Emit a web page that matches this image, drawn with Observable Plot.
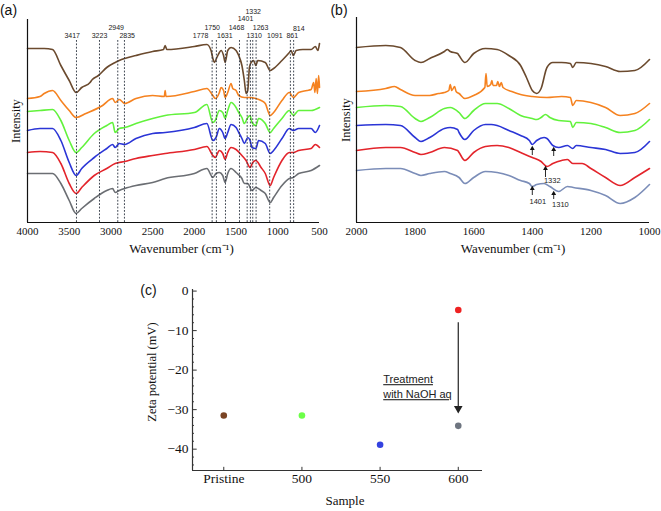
<!DOCTYPE html>
<html>
<head>
<meta charset="utf-8">
<script src="https://cdn.jsdelivr.net/npm/d3@7"></script>
<script src="https://cdn.jsdelivr.net/npm/@observablehq/plot@0.6"></script>
<style>
  body { margin: 0; background: #fff; }
  #wrap { position: relative; width: 661px; height: 511px; background: #fff; overflow: hidden; }
  #wrap > svg { position: absolute; }
  #wrap svg [aria-label^="x-axis"] text, #wrap svg [aria-label^="y-axis"] text,
  #wrap svg [aria-label^="x-axis"], #wrap svg [aria-label^="y-axis"] { font-family: "Liberation Serif", "Times New Roman", serif; }
  .lbl { position: absolute; transform: translate(-50%, -50%); line-height: 1; white-space: nowrap; color: #111; }
  .serif { font-family: "Liberation Serif", "Times New Roman", serif; }
  .sans { font-family: "Liberation Sans", Arial, sans-serif; }
</style>
</head>
<body>
<div id="wrap"></div>
<script>
// ---------- Panel (a): full FTIR spectra [wavenumber, intensity a.u.] ----------
const brownA = [[4000,182],[3800,182],[3700,181],[3600,165],[3500,150],[3417,138],[3350,143],[3250,148],[3223,151],[3150,155],[3050,163],[2949,168],[2900,170],[2835,172],[2700,175],[2500,179],[2370,181],[2350,185],[2330,181],[2000,184],[1850,186],[1800,180],[1778,172],[1760,168],[1730,173],[1700,178],[1680,180],[1650,175],[1631,168],[1600,180],[1560,183],[1500,180],[1468,175],[1430,165],[1401,150],[1380,137],[1360,140],[1340,163],[1320,168],[1290,170],[1263,165],[1240,170],[1150,168],[1091,160],[1050,162],[950,170],[861,178],[840,180],[814,175],[780,180],[700,181],[600,181],[550,184],[520,180],[500,187]];
const orangeA = [[4000,132],[3850,134],[3800,137],[3700,140],[3600,130],[3500,120],[3417,113],[3300,117],[3100,125],[2980,132],[2949,128],[2900,131],[2835,127],[2700,132],[2500,135],[2360,134],[2350,140],[2340,134],[2000,139],[1850,142],[1778,135],[1750,132],[1700,138],[1680,143],[1650,140],[1631,133],[1600,138],[1560,147],[1540,142],[1500,140],[1468,135],[1401,133],[1332,133],[1263,132],[1200,130],[1150,127],[1091,115],[1050,118],[950,130],[861,138],[814,133],[750,138],[650,140],[600,141],[570,148],[555,138],[540,152],[525,137],[510,155],[500,143]];
const greenA = [[4000,119],[3850,120],[3700,121],[3600,110],[3500,90],[3417,78],[3350,83],[3200,97],[3050,105],[2980,108],[2949,98],[2900,102],[2835,103],[2700,107],[2500,112],[2350,115],[2000,118],[1850,126],[1778,108],[1750,110],[1700,120],[1660,118],[1631,112],[1600,120],[1560,128],[1500,123],[1468,118],[1430,113],[1401,107],[1360,113],[1332,115],[1310,108],[1263,105],[1230,112],[1150,107],[1091,98],[1050,102],[950,112],[861,120],[814,115],[750,120],[600,120],[500,123]];
const blueA = [[4000,100],[3850,102],[3700,102],[3600,90],[3500,68],[3417,55],[3350,62],[3200,73],[3050,82],[2980,86],[2949,83],[2900,87],[2835,86],[2700,92],[2500,97],[2350,98],[2000,103],[1850,107],[1778,90],[1740,93],[1700,102],[1660,98],[1631,92],[1600,98],[1560,106],[1500,103],[1468,98],[1430,92],[1401,87],[1360,93],[1332,90],[1310,83],[1263,82],[1230,90],[1150,87],[1091,77],[1050,80],[950,92],[861,102],[814,100],[750,102],[600,102],[550,98],[500,105]];
const redA = [[4000,78],[3850,79],[3700,78],[3600,67],[3500,47],[3417,37],[3350,43],[3200,55],[3050,62],[2949,67],[2835,69],[2700,72],[2500,75],[2350,77],[2000,81],[1850,84],[1778,75],[1750,73],[1700,80],[1660,77],[1631,71],[1600,78],[1560,83],[1500,81],[1430,75],[1380,70],[1332,63],[1300,68],[1263,70],[1200,63],[1150,57],[1091,45],[1050,53],[950,70],[861,78],[814,78],[750,80],[600,82],[550,86],[500,83]];
const grayA = [[4000,57],[3850,57],[3700,57],[3600,47],[3500,30],[3417,17],[3350,22],[3200,32],[3050,40],[2980,42],[2949,38],[2900,40],[2835,42],[2700,45],[2500,48],[2350,52],[2000,57],[1850,62],[1778,53],[1740,57],[1700,58],[1660,55],[1631,48],[1600,57],[1560,62],[1500,58],[1430,52],[1401,47],[1360,47],[1310,40],[1263,43],[1200,40],[1150,37],[1091,28],[1050,33],[950,45],[861,52],[814,53],[750,57],[600,60],[500,65]];

// dashed peak markers: drawn position, label text, label position, label row height
const peakPosA   = [3413, 3137, 2918, 2838, 1787, 1736, 1627, 1459, 1367, 1328, 1300, 1260, 1097, 849, 810];
const peakTextA  = ["3417","3223","2949","2835","1778","1750","1631","1468","1401","1332","1310","1263","1091","861","814"];
const peakLblXA  = [3464, 3137, 2937, 2805, 1926, 1786, 1635, 1495, 1387, 1295, 1283, 1207, 1036, 827, 748];
const peakLblYA  = [195, 195, 203, 195, 195, 203, 195, 203, 211.5, 219, 195, 203, 195, 195, 202];
const peakTopA = 191;
const xTicksA = [4000, 3500, 3000, 2500, 2000, 1500, 1000, 500];

// ---------- Panel (b): 2000-1000 cm-1 region ----------
const brownB = [[2000,183],[1900,185],[1850,183],[1800,170],[1780,168],[1750,172],[1700,179],[1690,181],[1680,179],[1655,177],[1650,175],[1630,168],[1600,177],[1560,182],[1520,181],[1480,175],[1440,165],[1420,153],[1400,140],[1385,137],[1370,142],[1350,163],[1330,168],[1300,168],[1270,167],[1262,163],[1250,168],[1200,167],[1150,164],[1100,159],[1050,160],[1000,171]];
const orangeB = [[2000,139],[1900,142],[1870,144],[1850,141],[1800,135],[1750,135],[1720,137],[1700,138],[1685,140],[1680,146],[1675,140],[1665,144],[1660,139],[1650,137],[1630,132],[1600,135],[1562,143],[1558,157],[1554,144],[1542,146],[1538,150],[1534,145],[1522,145],[1518,149],[1512,144],[1506,148],[1500,143],[1470,139],[1440,136],[1400,134],[1350,133],[1300,134],[1270,133],[1262,125],[1250,130],[1200,128],[1150,123],[1100,115],[1050,117],[1000,127]];
const greenB = [[2000,123],[1900,125],[1850,124],[1800,112],[1780,109],[1750,113],[1700,122],[1680,123],[1650,118],[1630,112],[1600,120],[1560,127],[1520,127],[1480,122],[1440,115],[1400,112],[1385,111],[1370,113],[1355,116],[1340,113],[1310,110],[1270,109],[1262,103],[1250,108],[1200,107],[1150,103],[1100,98],[1050,100],[1000,111]];
const blueB = [[2000,105],[1900,106],[1850,105],[1800,93],[1780,89],[1750,93],[1700,102],[1680,103],[1655,101],[1650,98],[1630,91],[1600,100],[1560,106],[1540,106],[1520,105],[1480,100],[1440,95],[1410,90],[1400,86],[1385,90],[1360,93],[1350,92],[1330,85],[1310,83],[1280,85],[1262,82],[1250,85],[1200,83],[1150,81],[1100,77],[1050,78],[1000,89]];
const redB = [[2000,80],[1900,83],[1850,83],[1800,78],[1780,76],[1750,78],[1700,83],[1655,80],[1650,78],[1630,70],[1600,78],[1560,84],[1520,85],[1480,83],[1440,78],[1400,73],[1370,69],[1350,64],[1330,67],[1300,70],[1280,71],[1262,67],[1230,67],[1200,62],[1150,53],[1100,45],[1050,53],[1000,62]];
const grayB = [[2000,60],[1900,62],[1850,62],[1800,57],[1780,55],[1750,57],[1700,59],[1680,57],[1650,53],[1630,47],[1600,53],[1560,59],[1520,58],[1480,55],[1440,50],[1410,47],[1400,44],[1385,46],[1360,47],[1340,44],[1310,39],[1280,44],[1260,43],[1200,40],[1150,35],[1100,27],[1050,33],[1000,46]];

// small arrows in (b): position, tip, tail; labels
const arrowPosB  = [1400, 1327, 1355, 1400, 1327];
const arrowTipB  = [82, 81, 62, 42, 37];
const arrowTailB = [75, 74, 53, 35, 31];
const arrowTextB = ["1332", "1401", "1310"];
const arrowLblXB = [1332, 1381, 1304];
const arrowLblYB = [50, 29, 26];
const xTicksB = [2000, 1800, 1600, 1400, 1200, 1000];

// ---------- Panel (c): zeta potential ----------
const samples = ["Pristine", "500", "550", "600"];
const zetaIndex = [0, 1, 2, 3, 3];
const zetaValue = [-31.5, -31.5, -38.9, -4.8, -34.1];
const zetaColor = ["#7a4424", "#6cff48", "#3442e0", "#ee2222", "#6e7580"];
const zetaTicks = [0, -10, -20, -30, -40];
const zetaMinor = [-2,-4,-6,-8,-12,-14,-16,-18,-22,-24,-26,-28,-32,-34,-36,-38,-42,-44];
const treatArrow = {x: 3, from: -8.0, to: -30.6};
const treatText = ["Treatment", "with NaOH aq"];
const treatTextY = [-22.4, -26.2];

// ---------- helpers ----------
const toRows = arr => arr.map(([w, v]) => ({w, v}));
const specStyle = {background: "transparent", fontFamily: "'Liberation Serif', serif", fontSize: "11px", color: "#111", overflow: "visible"};

const seriesA = [
  [brownA, "#6b4a2e"], [orangeA, "#f58220"], [greenA, "#62f23c"],
  [blueA, "#2b35d6"], [redA, "#e3242b"], [grayA, "#6b6e73"]
];
const seriesB = [
  [brownB, "#6b4a2e"], [orangeB, "#f58220"], [greenB, "#62f23c"],
  [blueB, "#2b35d6"], [redB, "#e3242b"], [grayB, "#7b8db8"]
];

const wrap = document.getElementById("wrap");

// Panel (a)
const plotA = Plot.plot({
  width: 330, height: 255,
  marginLeft: 27, marginRight: 11, marginTop: 19, marginBottom: 33,
  style: specStyle,
  x: {domain: [4000, 500], ticks: xTicksA, tickSize: 0, tickPadding: 5, tickFormat: d3.format("d"), label: null},
  y: {domain: [8, 211], axis: null},
  marks: [
    ...seriesA.map(([d, c]) => Plot.line(toRows(d), {x: "w", y: "v", stroke: c, strokeWidth: 1.6, curve: "monotone-x"})),
    Plot.ruleX(peakPosA, {y1: 8, y2: peakTopA, stroke: "#2b3340", strokeWidth: 0.9, strokeDasharray: "1.8,1.6"}),
    Plot.text(peakTextA, {x: (d, i) => peakLblXA[i], y: (d, i) => peakLblYA[i], text: d => d, fontSize: 7, fontFamily: "'Liberation Sans', sans-serif", fill: "#222"}),
    Plot.ruleX([4000], {stroke: "#111", strokeWidth: 1.2}),
    Plot.ruleY([8], {stroke: "#111", strokeWidth: 1.2})
  ]
});
plotA.style.left = "0px"; plotA.style.top = "0px";
wrap.appendChild(plotA);

// Panel (b)
const plotB = Plot.plot({
  width: 331, height: 255,
  marginLeft: 26, marginRight: 12, marginTop: 17, marginBottom: 33,
  style: specStyle,
  x: {domain: [2000, 1000], ticks: xTicksB, tickSize: 0, tickPadding: 5, tickFormat: d3.format("d"), label: null},
  y: {domain: [8, 213], axis: null},
  marks: [
    ...seriesB.map(([d, c]) => Plot.line(toRows(d), {x: "w", y: "v", stroke: c, strokeWidth: 1.6, curve: "monotone-x"})),
    Plot.ruleX(arrowPosB, {y1: (d, i) => arrowTailB[i], y2: (d, i) => arrowTipB[i], stroke: "#111", strokeWidth: 0.9}),
    Plot.dot(arrowPosB, {x: d => d, y: (d, i) => arrowTipB[i], symbol: "triangle", r: 1.8, fill: "#111", stroke: "none"}),
    Plot.text(arrowTextB, {x: (d, i) => arrowLblXB[i], y: (d, i) => arrowLblYB[i], text: d => d, fontSize: 7.5, fontFamily: "'Liberation Sans', sans-serif", fill: "#222"}),
    Plot.ruleX([2000], {stroke: "#111", strokeWidth: 1.2}),
    Plot.ruleY([8], {stroke: "#111", strokeWidth: 1.2})
  ]
});
plotB.style.left = "330px"; plotB.style.top = "0px";
wrap.appendChild(plotB);

// Panel (c)
const zRows = zetaIndex.map((x, i) => ({x, v: zetaValue[i], c: zetaColor[i]}));
const plotC = Plot.plot({
  width: 360, height: 241,
  marginLeft: 52, marginRight: 18, marginTop: 19, marginBottom: 41,
  style: {background: "transparent", fontFamily: "'Liberation Serif', serif", fontSize: "13.5px", color: "#111", overflow: "visible"},
  x: {domain: [-0.4, 3.31], ticks: [0, 1, 2, 3], tickSize: 0, tickPadding: 3, tickFormat: i => samples[i], label: null},
  y: {domain: [-45.4, 0.4], ticks: zetaTicks, tickSize: 0, tickPadding: 4, tickFormat: d3.format("d"), label: null},
  marks: [
    Plot.ruleY(zetaTicks, {x1: -0.4, x2: -0.34, stroke: "#333", strokeWidth: 1}),
    Plot.ruleY(zetaMinor, {x1: -0.4, x2: -0.375, stroke: "#333", strokeWidth: 1}),
    Plot.ruleX([0, 1, 2, 3], {y1: -45.4, y2: -44.6, stroke: "#333", strokeWidth: 1}),
    Plot.ruleX([-0.4], {y1: -45.4, y2: 0.4, stroke: "#333", strokeWidth: 1.2}),
    Plot.ruleY([-45.4], {x1: -0.4, x2: 3.31, stroke: "#333", strokeWidth: 1.2}),
    Plot.ruleX([treatArrow.x], {y1: treatArrow.from, y2: treatArrow.to + 1.2, stroke: "#222", strokeWidth: 1.2}),
    Plot.dot([treatArrow.x], {x: d => d, y: treatArrow.to + 0.9, symbol: "triangle", rotate: 180, r: 3.2, fill: "#222", stroke: "none"}),
    Plot.text(treatText, {x: 2.04, y: (d, i) => treatTextY[i], text: d => d, textAnchor: "start", fontSize: 11, fontFamily: "'Liberation Sans', sans-serif", fill: "#222"}),
    Plot.dot(zRows, {x: "x", y: "v", fill: "c", r: 3.3, stroke: "none"})
  ]
});
plotC.style.left = "140px"; plotC.style.top = "270px";
plotC.querySelectorAll("text").forEach(t => {
  if (treatText.includes(t.textContent)) t.setAttribute("text-decoration", "underline");
});
wrap.appendChild(plotC);

// Labels
function addLabel(text, x, y, cls, size, rot) {
  const d = document.createElement("div");
  d.className = "lbl " + cls;
  d.textContent = text;
  d.style.left = x + "px"; d.style.top = y + "px";
  d.style.fontSize = size + "px";
  if (rot) d.style.transform = "translate(-50%, -50%) rotate(-90deg)";
  wrap.appendChild(d);
}
addLabel("(a)", 8.5, 10, "sans", 14);
addLabel("(b)", 339, 10, "sans", 14);
addLabel("(c)", 148.5, 290, "sans", 14);
addLabel("Intensity", 16, 121, "serif", 12.5, true);
addLabel("Intensity", 346, 120, "serif", 12.5, true);
addLabel("Wavenumber (cm⁻¹)", 181.5, 248, "serif", 13);
addLabel("Wavenumber (cm⁻¹)", 513, 248, "serif", 13);
addLabel("Sample", 345, 500, "serif", 13);
addLabel("Zeta potential (mV)", 152, 372, "serif", 12.5, true);
</script>
</body>
</html>
